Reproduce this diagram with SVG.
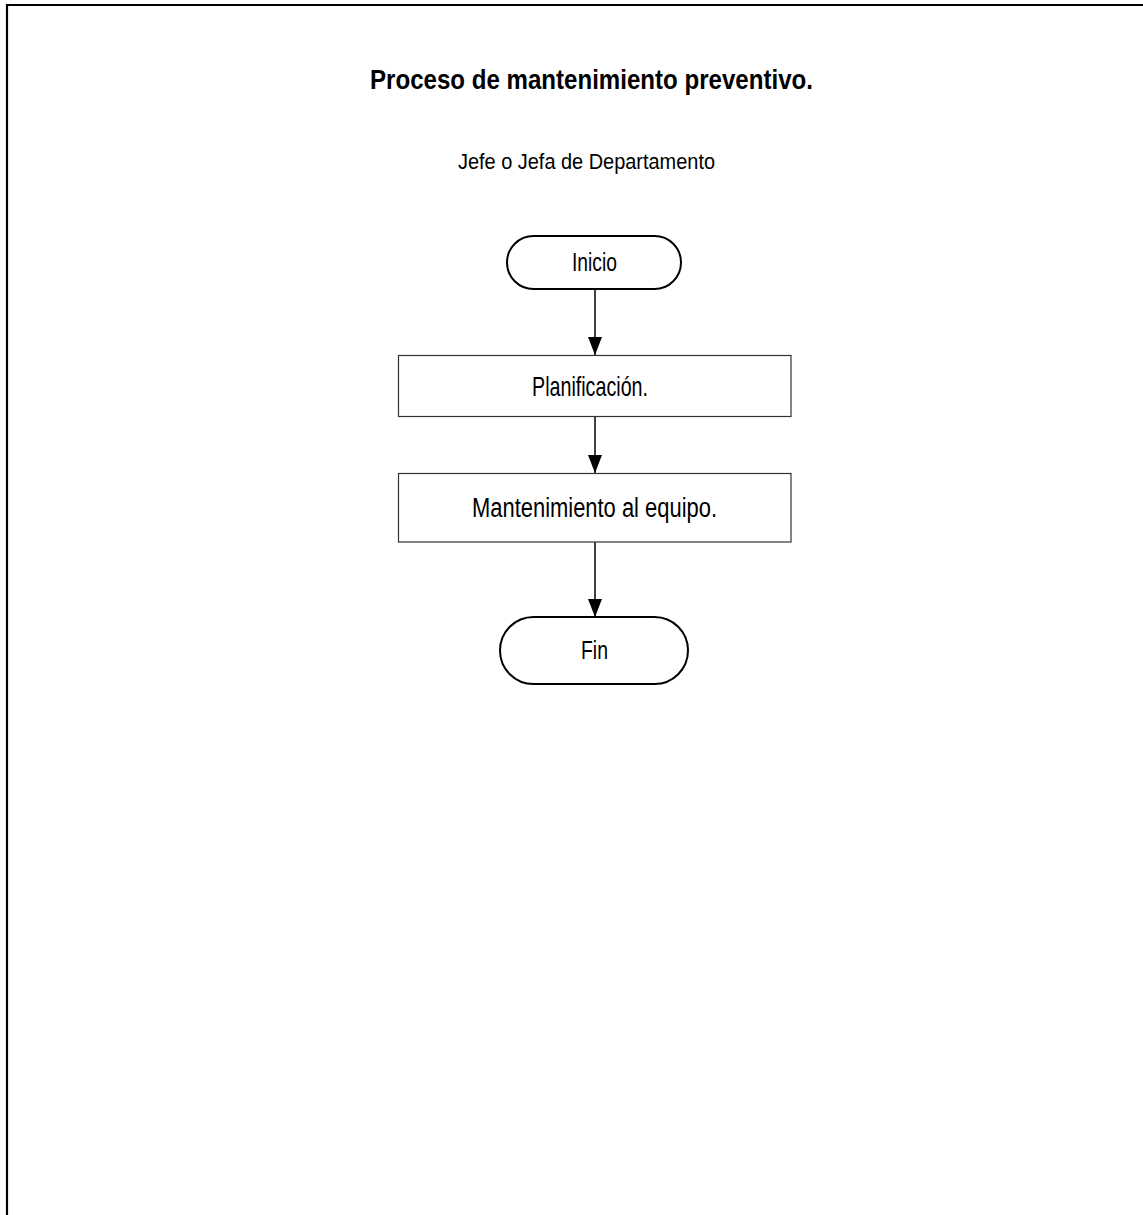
<svg xmlns="http://www.w3.org/2000/svg" width="1143" height="1215" viewBox="0 0 1143 1215">
<style>
text{font-family:"Liberation Sans",Arial,sans-serif;fill:#000;text-anchor:middle}
.term{fill:#fff;stroke:#000;stroke-width:2}
.proc{fill:#fff;stroke:#333;stroke-width:1.2}
.conn{stroke:#000;stroke-width:1.5;fill:none}
</style>
<defs>
<marker id="arr" markerUnits="userSpaceOnUse" markerWidth="18" markerHeight="14" refX="18" refY="7" orient="auto" viewBox="0 0 18 14">
<path d="M0,0 L18,7 L0,14 Z" fill="#000"/>
</marker>
</defs>
<rect width="1143" height="1215" fill="#fff"/>
<g id="frame">
<path d="M7,1215 L7,5 L1143,5" fill="none" stroke="#000" stroke-width="2.2"/>
</g>
<g id="title">
<text x="591.5" y="89" font-size="27" font-weight="bold" textLength="443" lengthAdjust="spacingAndGlyphs">Proceso de mantenimiento preventivo.</text>
<text x="586.5" y="169" font-size="22" textLength="257" lengthAdjust="spacingAndGlyphs">Jefe o Jefa de Departamento</text>
</g>
<g id="connectors">
<path class="conn" d="M595,289 L595,355" marker-end="url(#arr)"/>
<path class="conn" d="M595,417 L595,473" marker-end="url(#arr)"/>
<path class="conn" d="M595,542 L595,617" marker-end="url(#arr)"/>
</g>
<g id="inicio">
<rect class="term" x="507" y="236" width="174" height="53" rx="26.5"/>
<text x="594.5" y="271" font-size="25" textLength="45" lengthAdjust="spacingAndGlyphs">Inicio</text>
</g>
<g id="planificacion">
<rect class="proc" x="398.5" y="355.5" width="392.5" height="61"/>
<text x="590" y="396" font-size="28" textLength="116" lengthAdjust="spacingAndGlyphs">Planificación.</text>
</g>
<g id="mantenimiento">
<rect class="proc" x="398.5" y="473.5" width="392.5" height="68.5"/>
<text x="594.5" y="517" font-size="27" textLength="245" lengthAdjust="spacingAndGlyphs">Mantenimiento al equipo.</text>
</g>
<g id="fin">
<rect class="term" x="500" y="617" width="188" height="67" rx="33.5"/>
<text x="594.5" y="659" font-size="25" textLength="27" lengthAdjust="spacingAndGlyphs">Fin</text>
</g>
</svg>
